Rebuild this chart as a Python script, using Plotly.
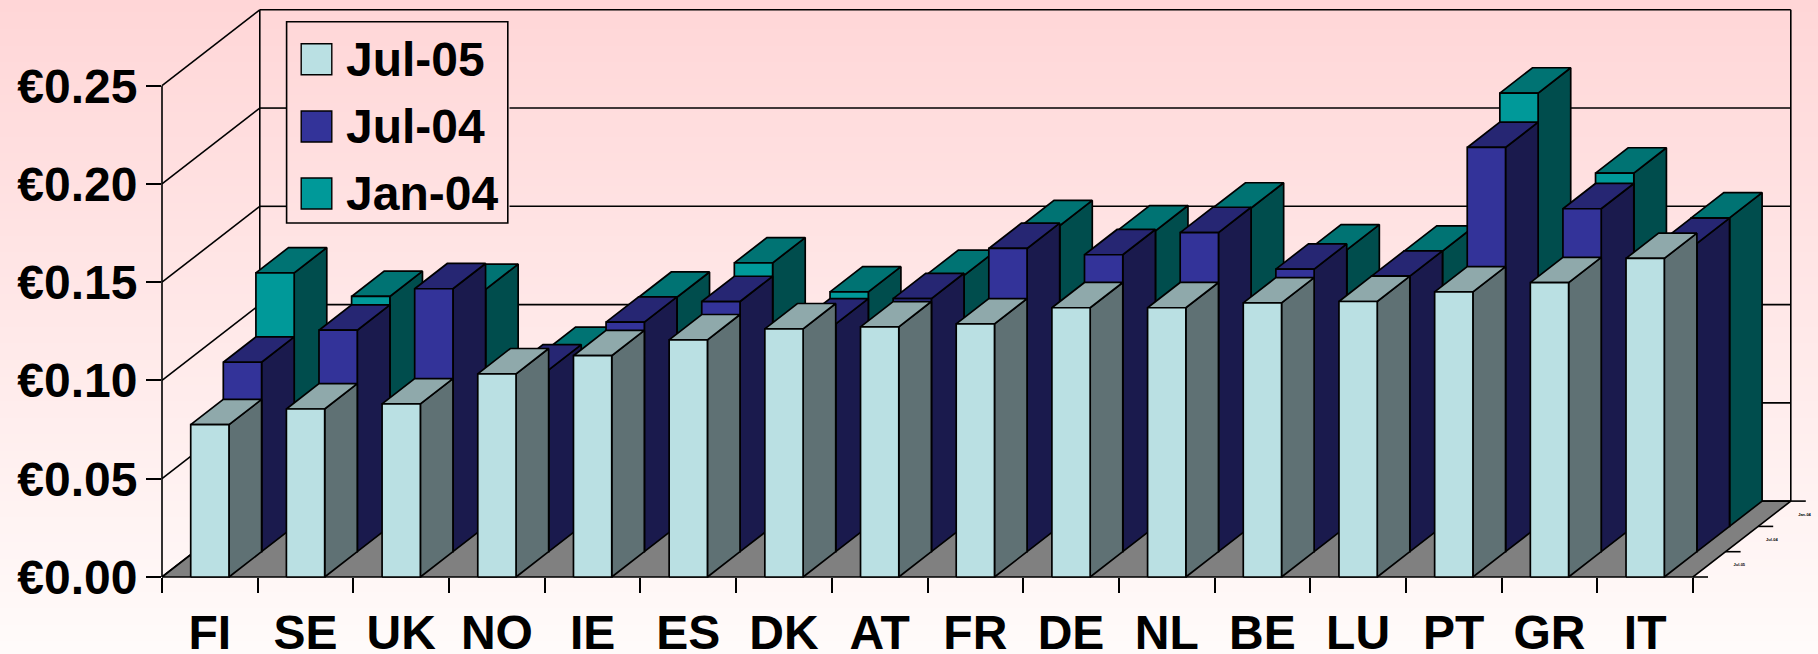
import numpy as np
import plotly.graph_objects as go

# Member states along the category axis
countries = ["FI", "SE", "UK", "NO", "IE", "ES", "DK", "AT", "FR", "DE", "NL", "BE", "LU", "PT", "GR", "IT"]

# Price per period, EUR
jul_05 = [0.0775, 0.0855, 0.0881, 0.1034, 0.1126, 0.1207, 0.1263, 0.1273, 0.1288, 0.1370,
          0.1370, 0.1395, 0.1402, 0.1451, 0.1498, 0.1621]
jul_04 = [0.0964, 0.1127, 0.1338, 0.0925, 0.1168, 0.1273, 0.1159, 0.1288, 0.1543, 0.1511,
          0.1624, 0.1438, 0.1402, 0.2057, 0.1745, 0.1569]
jan_04 = [0.1290, 0.1170, 0.1206, 0.0885, 0.1166, 0.1341, 0.1193, 0.1277, 0.1530, 0.1504,
          0.1620, 0.1407, 0.1401, 0.2205, 0.1798, 0.1570]

series_names = ["Jul-05", "Jul-04", "Jan-04"]
series_values = [jul_05, jul_04, jan_04]

value_ticks = [0.0, 0.05, 0.10, 0.15, 0.20, 0.25]
value_labels = ["€0.00", "€0.05", "€0.10", "€0.15", "€0.20", "€0.25"]

# Face colours: front, top, side
palette = {
    "Jul-05": ("#BAE0E3", "#8FA9AB", "#5F7174"),
    "Jul-04": ("#333399", "#262673", "#1A1A4D"),
    "Jan-04": ("#009999", "#007373", "#004D4D"),
}

W, H = 1818, 654
FRONT_LEFT, FRONT_RIGHT = 162.0, 1693.0
BASE_Y, TOP_Y = 577.0, 85.7
CAT_PX = (FRONT_RIGHT - FRONT_LEFT) / len(countries)
VAL_PX = (BASE_Y - TOP_Y) / 0.25

# Oblique projection: one depth row moves a point right and up, in axis units
ROW_DX = 32.6 / CAT_PX
ROW_DY = 25.3 / VAL_PX
ROWS = 3
BAR_W = 0.40
BAR_PAD = 0.30


def proj(cat, val, depth):
    return cat + depth * ROW_DX, val + depth * ROW_DY


def polygons(faces):
    xs, ys = [], []
    for face in faces:
        for c, v, d in face + [face[0]]:
            px, py = proj(c, v, d)
            xs.append(px)
            ys.append(py)
        xs.append(None)
        ys.append(None)
    return xs, ys


fig = go.Figure()

# Page background: soft vertical wash on a full-page axis pair
grad_y = np.linspace(0, 1, 80)
grad_z = np.array([[1 - t, 1 - t] for t in grad_y])
fig.add_trace(go.Heatmap(
    x=[0, 1], y=grad_y, z=grad_z, zmin=0, zmax=1, showscale=False, hoverinfo="skip",
    colorscale=[[0, "#FFD6D7"], [1, "#FFFBFA"]], xaxis="x", yaxis="y",
))


def outline(xs, ys, fill=None, width=1.7):
    fig.add_trace(go.Scatter(
        x=xs, y=ys, mode="lines", line=dict(color="black", width=width),
        fill="toself" if fill else None, fillcolor=fill, hoverinfo="skip", showlegend=False,
        xaxis="x2", yaxis="y2",
    ))


n = len(countries)

# Left wall diagonals, back wall gridlines and frame; gridlines stop at the legend panel
LEG_L = (286.6 - FRONT_LEFT) / CAT_PX
LEG_R = (509.5 - FRONT_LEFT) / CAT_PX
LEG_TOP = (BASE_Y - 21.7) / VAL_PX
LEG_BOT = (BASE_Y - 223.0) / VAL_PX
wx, wy = [], []
for v in value_ticks:
    a = proj(0, v, 0)
    b = proj(0, v, ROWS)
    c = proj(n, v, ROWS)
    wx += [a[0], b[0], None]
    wy += [a[1], b[1], None]
    if LEG_BOT < b[1] < LEG_TOP:
        wx += [b[0], LEG_L, None, LEG_R, c[0], None]
        wy += [b[1], b[1], None, b[1], b[1], None]
    else:
        wx += [b[0], c[0], None]
        wy += [b[1], b[1], None]
for c0, d in [(0, 0), (0, ROWS), (n, ROWS)]:
    a = proj(c0, 0, d)
    b = proj(c0, 0.25, d)
    wx += [a[0], b[0], None]
    wy += [a[1], b[1], None]
outline(wx, wy, width=1.6)

# Floor
floor = [[(0, 0, 0), (n, 0, 0), (n, 0, ROWS), (0, 0, ROWS)]]
fx, fy = polygons(floor)
outline(fx, fy, fill="#808080")

# Bars, back row first so nearer rows cover them
for row in reversed(range(ROWS)):
    name = series_names[row]
    vals = series_values[row]
    front_c, top_c, side_c = palette[name]
    front, side, top = [], [], []
    for i, v in enumerate(vals):
        l, r = i + BAR_PAD, i + BAR_PAD + BAR_W
        front.append([(l, 0, row), (r, 0, row), (r, v, row), (l, v, row)])
        side.append([(r, 0, row), (r, 0, row + 1), (r, v, row + 1), (r, v, row)])
        top.append([(l, v, row), (r, v, row), (r, v, row + 1), (l, v, row + 1)])
    for faces, colour in [(side, side_c), (top, top_c), (front, front_c)]:
        xs, ys = polygons(faces)
        outline(xs, ys, fill=colour)

# Depth axis ticks and tiny series labels along the floor's right edge
TICK_U = 15 / CAT_PX
dx_t, dy_t = [], []
for d in range(ROWS + 1):
    a = proj(n, 0, d)
    dx_t += [a[0], a[0] + TICK_U, None]
    dy_t += [a[1], a[1], None]
outline(dx_t, dy_t, width=1.6)
tx, ty = [], []
for row in range(ROWS):
    a = proj(n, 0, row + 0.5)
    tx.append(a[0] + 30 / CAT_PX)
    ty.append(a[1] - 1 / VAL_PX)
fig.add_trace(go.Scatter(
    x=tx, y=ty, text=series_names, mode="text", hoverinfo="skip", showlegend=False,
    textfont=dict(family="Liberation Sans", size=4, color="black", weight="bold"),
    textposition="middle center", xaxis="x2", yaxis="y2",
))

# Native axes carrying the value and category scales
fig.add_trace(go.Scatter(
    x=countries, y=jul_05, mode="lines", line=dict(color="rgba(0,0,0,0)"), hoverinfo="skip",
    showlegend=False, xaxis="x3", yaxis="y3",
))

tick_font = dict(family="Liberation Sans", size=48, color="black", weight="bold")
full_axis = dict(visible=False, domain=[0, 1], fixedrange=True, automargin=False)

shapes = []
annotations = []


# Legend panel, placed in page pixels
def px_x(p):
    return p / W


def px_y(p):
    return 1 - p / H


shapes.append(dict(type="rect", xref="paper", yref="paper", x0=px_x(286.6), x1=px_x(507.8),
                   y0=px_y(223), y1=px_y(21.7), line=dict(color="black", width=1.6),
                   fillcolor="rgba(0,0,0,0)", layer="above"))
for name, top_px in zip(series_names, [43.7, 111.0, 178.0]):
    shapes.append(dict(type="rect", xref="paper", yref="paper", x0=px_x(301.2), x1=px_x(331.8),
                       y0=px_y(top_px + 31), y1=px_y(top_px), line=dict(color="black", width=1.4),
                       fillcolor=palette[name][0], layer="above"))
    annotations.append(dict(text=name, xref="paper", yref="paper", x=px_x(343.5), y=px_y(top_px + 15.5),
                            xanchor="left", yanchor="middle", showarrow=False,
                            font=tick_font))

fig.update_layout(
    template="none",
    width=W, height=H, margin=dict(l=0, r=0, t=0, b=0, pad=0), autosize=False,
    paper_bgcolor="#FFFFFF", plot_bgcolor="rgba(0,0,0,0)", showlegend=False,
    xaxis=dict(range=[0, 1], **full_axis),
    yaxis=dict(range=[0, 1], **full_axis),
    xaxis2=dict(range=[-FRONT_LEFT / CAT_PX, (W - FRONT_LEFT) / CAT_PX], overlaying="x", visible=False,
                fixedrange=True, automargin=False),
    yaxis2=dict(range=[-(H - BASE_Y) / VAL_PX, BASE_Y / VAL_PX], overlaying="y", visible=False,
                fixedrange=True, automargin=False),
    xaxis3=dict(
        domain=[FRONT_LEFT / W, FRONT_RIGHT / W], anchor="y3", type="category",
        categoryorder="array", categoryarray=countries, range=[-0.5, n - 0.5],
        tickson="boundaries", ticks="outside", ticklen=15, tickwidth=1.7, tickcolor="black",
        showline=False, showgrid=False, zeroline=False, tickfont=tick_font, tickangle=0,
        ticklabelstandoff=23, fixedrange=True, automargin=False,
    ),
    yaxis3=dict(
        domain=[1 - BASE_Y / H, 1 - TOP_Y / H], anchor="x3", range=[0, 0.25],
        tickmode="array", tickvals=value_ticks, ticktext=value_labels, ticks="outside", ticklen=15,
        tickwidth=1.7, tickcolor="black", showline=False, showgrid=False, zeroline=False,
        tickfont=tick_font, ticklabelstandoff=-1, fixedrange=True, automargin=False,
    ),
    shapes=shapes, annotations=annotations,
)

fig.write_html("out.html")
